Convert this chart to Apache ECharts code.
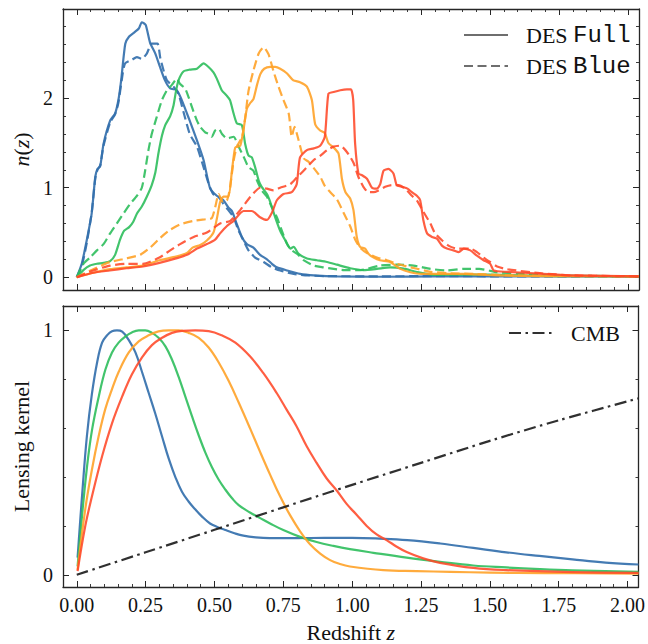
<!DOCTYPE html>
<html><head><meta charset="utf-8">
<script src="https://cdn.jsdelivr.net/npm/echarts@6/dist/echarts.min.js"></script>
<style>html,body{margin:0;padding:0;background:#fff}#c{width:648px;height:644px}</style>
</head><body><div id="c"></div>
<script>
// ---------- tick values & labels ----------
const xMajor = [0, 0.25, 0.5, 0.75, 1.0, 1.25, 1.5, 1.75, 2.0];
const xTickLabels = ['0.00','0.25','0.50','0.75','1.00','1.25','1.50','1.75','2.00'];
const yTopMajor = [0, 1, 2];
const yTopLabels = ['0','1','2'];
const yBotMajor = [0, 1];
const yBotLabels = ['0','1'];

// ---------- n(z): DES Full (solid) ----------
const bin1Full = [[0,0],[0.018,0.15],[0.036,0.41],[0.054,0.71],[0.067,1.12],[0.075,1.21],[0.085,1.24],[0.097,1.49],[0.121,1.75],[0.139,1.83],[0.151,1.98],[0.161,2.2],[0.176,2.61],[0.19,2.69],[0.21,2.74],[0.225,2.78],[0.236,2.85],[0.25,2.82],[0.266,2.62],[0.285,2.5],[0.302,2.35],[0.32,2.2],[0.339,2.11],[0.363,2.09],[0.381,1.98],[0.406,1.78],[0.436,1.53],[0.46,1.31],[0.484,0.99],[0.508,0.91],[0.532,0.86],[0.55,0.78],[0.563,0.74],[0.58,0.6],[0.599,0.45],[0.617,0.37],[0.641,0.33],[0.665,0.25],[0.69,0.2],[0.708,0.15],[0.726,0.11],[0.763,0.075],[0.81,0.037],[0.86,0.02],[0.95,0.008],[1.1,0.005],[1.3,0.01],[1.5,0.01],[1.7,0.008],[1.9,0.008],[2.04,0.008]];
const bin2Full = [[0,0],[0.024,0.08],[0.048,0.13],[0.073,0.15],[0.097,0.16],[0.121,0.18],[0.139,0.25],[0.157,0.42],[0.172,0.52],[0.19,0.56],[0.205,0.62],[0.218,0.71],[0.236,0.79],[0.254,0.9],[0.272,1.03],[0.285,1.17],[0.296,1.38],[0.309,1.58],[0.321,1.7],[0.339,1.8],[0.351,1.92],[0.36,2.08],[0.369,2.2],[0.387,2.3],[0.41,2.32],[0.436,2.33],[0.46,2.39],[0.478,2.35],[0.496,2.29],[0.508,2.22],[0.526,2.09],[0.544,2.03],[0.556,1.98],[0.569,1.83],[0.581,1.72],[0.599,1.7],[0.611,1.49],[0.623,1.36],[0.635,1.34],[0.647,1.23],[0.66,1.08],[0.671,1.01],[0.69,0.93],[0.702,0.84],[0.72,0.67],[0.738,0.52],[0.757,0.41],[0.775,0.32],[0.787,0.34],[0.805,0.26],[0.835,0.21],[0.871,0.19],[0.908,0.17],[0.944,0.14],[0.992,0.1],[1.04,0.08],[1.089,0.093],[1.137,0.11],[1.186,0.095],[1.234,0.058],[1.3,0.025],[1.44,0.03],[1.55,0.025],[1.68,0.015],[1.8,0.012],[2.04,0.01]];
const bin3Full = [[0,0],[0.06,0.05],[0.121,0.09],[0.18,0.11],[0.24,0.13],[0.3,0.19],[0.36,0.23],[0.4,0.27],[0.42,0.33],[0.448,0.36],[0.472,0.41],[0.496,0.5],[0.508,0.65],[0.52,0.84],[0.532,0.9],[0.55,0.9],[0.563,1.19],[0.575,1.45],[0.593,1.47],[0.605,1.65],[0.617,1.88],[0.63,1.95],[0.641,1.99],[0.654,2.15],[0.666,2.27],[0.68,2.33],[0.702,2.35],[0.72,2.35],[0.738,2.33],[0.762,2.28],[0.786,2.2],[0.81,2.18],[0.835,2.13],[0.853,1.98],[0.865,1.71],[0.883,1.64],[0.9,1.61],[0.913,1.5],[0.932,1.45],[0.95,1.38],[0.962,1.1],[0.975,0.95],[0.992,0.88],[1.004,0.75],[1.016,0.45],[1.028,0.34],[1.046,0.32],[1.059,0.26],[1.077,0.22],[1.1,0.19],[1.137,0.17],[1.174,0.093],[1.21,0.056],[1.25,0.037],[1.31,0.037],[1.4,0.037],[1.52,0.02],[1.7,0.012],[2.04,0.01]];
const bin4Full = [[0,0],[0.06,0.05],[0.12,0.075],[0.18,0.1],[0.24,0.12],[0.3,0.16],[0.36,0.21],[0.4,0.25],[0.436,0.32],[0.472,0.37],[0.502,0.42],[0.52,0.49],[0.544,0.57],[0.569,0.63],[0.605,0.74],[0.635,0.74],[0.665,0.67],[0.69,0.64],[0.708,0.72],[0.726,0.86],[0.75,0.93],[0.78,0.95],[0.798,1.04],[0.81,1.34],[0.835,1.42],[0.86,1.44],[0.883,1.47],[0.9,1.57],[0.913,2.05],[0.932,2.07],[0.956,2.09],[0.98,2.1],[0.995,2.1],[1.003,1.98],[1.01,1.49],[1.022,1.16],[1.035,1.14],[1.053,1.1],[1.071,1.0],[1.089,0.99],[1.101,1.04],[1.113,1.19],[1.131,1.21],[1.149,1.16],[1.161,1.03],[1.18,1.01],[1.2,0.99],[1.216,0.95],[1.234,0.91],[1.246,0.86],[1.258,0.63],[1.271,0.49],[1.289,0.45],[1.307,0.43],[1.326,0.35],[1.343,0.32],[1.367,0.3],[1.386,0.28],[1.404,0.32],[1.428,0.3],[1.452,0.24],[1.476,0.19],[1.5,0.15],[1.513,0.075],[1.56,0.06],[1.68,0.04],[1.8,0.02],[2.04,0.01]];

// ---------- n(z): DES Blue (dashed) ----------
const bin1Blue = [[0,0],[0.018,0.12],[0.036,0.38],[0.054,0.72],[0.067,1.1],[0.075,1.2],[0.085,1.25],[0.097,1.47],[0.121,1.73],[0.139,1.82],[0.151,1.95],[0.163,2.2],[0.175,2.39],[0.2,2.43],[0.218,2.46],[0.236,2.44],[0.254,2.5],[0.272,2.61],[0.293,2.61],[0.303,2.45],[0.315,2.31],[0.327,2.2],[0.351,2.13],[0.369,2.05],[0.387,1.85],[0.41,1.6],[0.436,1.46],[0.46,1.23],[0.478,1.05],[0.495,0.93],[0.514,0.9],[0.532,0.82],[0.55,0.75],[0.569,0.67],[0.587,0.52],[0.605,0.41],[0.623,0.3],[0.647,0.22],[0.678,0.17],[0.708,0.11],[0.738,0.075],[0.787,0.037],[0.84,0.02],[0.9,0.012],[1.1,0.01],[1.3,0.012],[1.5,0.01],[1.7,0.008],[2.04,0.008]];
const bin2Blue = [[0,0],[0.024,0.15],[0.048,0.22],[0.073,0.3],[0.097,0.37],[0.121,0.49],[0.145,0.6],[0.169,0.71],[0.194,0.82],[0.218,0.91],[0.236,1.0],[0.248,1.19],[0.26,1.42],[0.272,1.6],[0.29,1.79],[0.309,1.98],[0.327,2.09],[0.345,2.15],[0.363,2.22],[0.375,2.16],[0.393,2.11],[0.406,2.01],[0.418,1.9],[0.436,1.75],[0.448,1.68],[0.466,1.62],[0.48,1.6],[0.49,1.57],[0.502,1.64],[0.515,1.66],[0.527,1.6],[0.545,1.55],[0.569,1.57],[0.587,1.46],[0.605,1.35],[0.623,1.23],[0.641,1.19],[0.654,1.08],[0.671,0.97],[0.69,0.9],[0.708,0.78],[0.726,0.67],[0.744,0.52],[0.763,0.37],[0.78,0.3],[0.8,0.26],[0.823,0.19],[0.86,0.13],[0.895,0.11],[0.932,0.093],[0.97,0.08],[1.03,0.08],[1.1,0.13],[1.162,0.14],[1.222,0.13],[1.283,0.093],[1.343,0.075],[1.404,0.093],[1.46,0.093],[1.525,0.056],[1.6,0.04],[1.7,0.025],[1.85,0.015],[2.04,0.01]];
const bin3Blue = [[0,0],[0.06,0.09],[0.121,0.17],[0.18,0.21],[0.23,0.25],[0.266,0.33],[0.303,0.44],[0.339,0.53],[0.375,0.59],[0.424,0.63],[0.472,0.65],[0.49,0.66],[0.502,0.78],[0.515,0.93],[0.53,0.84],[0.545,0.86],[0.556,1.0],[0.569,1.3],[0.581,1.46],[0.6,1.57],[0.611,1.78],[0.623,2.08],[0.641,2.31],[0.66,2.5],[0.678,2.57],[0.696,2.49],[0.714,2.3],[0.732,2.13],[0.75,1.98],[0.769,1.83],[0.78,1.57],[0.79,1.68],[0.805,1.53],[0.823,1.33],[0.841,1.29],[0.86,1.22],[0.884,1.12],[0.9,1.02],[0.92,0.95],[0.944,0.87],[0.968,0.72],[0.992,0.57],[1.01,0.42],[1.028,0.33],[1.053,0.27],[1.089,0.22],[1.125,0.19],[1.162,0.15],[1.198,0.12],[1.234,0.095],[1.283,0.06],[1.35,0.045],[1.44,0.037],[1.56,0.022],[1.7,0.015],[2.04,0.01]];
const bin4Blue = [[0,0],[0.06,0.075],[0.121,0.13],[0.18,0.15],[0.24,0.15],[0.3,0.22],[0.339,0.3],[0.375,0.37],[0.424,0.45],[0.472,0.5],[0.52,0.6],[0.557,0.63],[0.593,0.75],[0.63,0.9],[0.666,1.0],[0.69,0.99],[0.714,0.97],[0.738,1.0],[0.775,1.04],[0.8,1.12],[0.823,1.19],[0.86,1.31],[0.884,1.36],[0.908,1.42],[0.932,1.46],[0.956,1.47],[0.98,1.4],[1.004,1.28],[1.022,1.12],[1.04,1.01],[1.058,0.95],[1.077,0.95],[1.095,0.97],[1.119,1.01],[1.143,1.03],[1.168,1.03],[1.192,0.99],[1.216,0.91],[1.234,0.86],[1.258,0.73],[1.283,0.6],[1.3,0.49],[1.326,0.41],[1.35,0.35],[1.38,0.32],[1.404,0.32],[1.428,0.32],[1.452,0.28],[1.476,0.22],[1.5,0.17],[1.525,0.12],[1.56,0.09],[1.68,0.045],[1.8,0.02],[2.04,0.01]];

// ---------- lensing kernels ----------
const kern1 = [[0.003,0.07],[0.019,0.32],[0.037,0.57],[0.055,0.74],[0.074,0.87],[0.092,0.95],[0.11,0.98],[0.128,0.997],[0.146,1.0],[0.165,0.995],[0.189,0.96],[0.213,0.91],[0.237,0.83],[0.261,0.745],[0.285,0.66],[0.31,0.565],[0.334,0.475],[0.358,0.4],[0.382,0.34],[0.406,0.3],[0.43,0.268],[0.455,0.238],[0.484,0.21],[0.51,0.196],[0.54,0.183],[0.57,0.171],[0.605,0.16],[0.65,0.153],[0.7,0.15],[0.8,0.15],[0.9,0.151],[1.0,0.151],[1.1,0.148],[1.2,0.142],[1.32,0.128],[1.44,0.11],[1.56,0.092],[1.68,0.077],[1.8,0.063],[1.92,0.05],[2.04,0.042]];
const kern2 = [[0.003,0.035],[0.019,0.24],[0.037,0.44],[0.055,0.59],[0.08,0.73],[0.104,0.84],[0.128,0.91],[0.152,0.95],[0.177,0.976],[0.2,0.992],[0.225,1.0],[0.249,1.0],[0.273,0.99],[0.297,0.97],[0.322,0.935],[0.346,0.88],[0.37,0.81],[0.394,0.73],[0.418,0.65],[0.443,0.57],[0.467,0.5],[0.491,0.44],[0.515,0.39],[0.54,0.348],[0.564,0.313],[0.588,0.285],[0.629,0.255],[0.666,0.232],[0.702,0.21],[0.75,0.183],[0.811,0.155],[0.871,0.134],[0.932,0.118],[0.992,0.105],[1.077,0.09],[1.198,0.07],[1.319,0.053],[1.44,0.038],[1.56,0.03],[1.682,0.023],[1.8,0.018],[2.04,0.012]];
const kern3 = [[0.003,0.02],[0.031,0.27],[0.055,0.43],[0.08,0.57],[0.104,0.68],[0.128,0.76],[0.152,0.83],[0.189,0.91],[0.225,0.955],[0.261,0.98],[0.297,0.996],[0.334,1.0],[0.37,1.0],[0.406,0.99],[0.443,0.97],[0.479,0.93],[0.515,0.87],[0.551,0.795],[0.588,0.705],[0.629,0.6],[0.665,0.505],[0.702,0.41],[0.738,0.322],[0.774,0.245],[0.811,0.178],[0.847,0.125],[0.884,0.087],[0.92,0.06],[0.956,0.044],[0.992,0.034],[1.113,0.019],[1.234,0.015],[1.356,0.012],[1.5,0.009],[1.7,0.007],[2.04,0.005]];
const kern4 = [[0.003,0.015],[0.031,0.2],[0.055,0.32],[0.092,0.485],[0.128,0.62],[0.165,0.73],[0.2,0.82],[0.237,0.89],[0.273,0.94],[0.31,0.97],[0.346,0.99],[0.382,0.998],[0.43,1.0],[0.479,0.997],[0.527,0.98],[0.576,0.95],[0.629,0.894],[0.677,0.826],[0.726,0.744],[0.762,0.676],[0.798,0.608],[0.835,0.526],[0.871,0.458],[0.907,0.395],[0.944,0.345],[0.98,0.29],[1.017,0.245],[1.053,0.2],[1.089,0.165],[1.125,0.142],[1.162,0.115],[1.198,0.093],[1.258,0.067],[1.319,0.049],[1.44,0.028],[1.56,0.019],[1.8,0.011],[2.04,0.008]];
const kernCMB = [[0,0],[0.25,0.092],[0.5,0.184],[0.75,0.276],[1.0,0.368],[1.25,0.458],[1.5,0.548],[1.75,0.632],[2.04,0.722]];

// ---------- styling ----------
const C_BLUE='rgba(52,112,172,0.92)', C_GREEN='rgba(46,190,92,0.9)', C_ORANGE='rgba(255,162,40,0.9)', C_RED='rgba(255,72,40,0.88)';
const AX='#262626';
const SERIF='"Liberation Serif", "DejaVu Serif", serif';
const MONO='"Liberation Mono", "DejaVu Sans Mono", monospace';
const X_MIN=-0.05, X_MAX=2.04;
const LW=2.2;

function minorVals(a, b, step){ const out=[]; for(let v=a; v<=b+1e-9; v+=step){ out.push(Math.round(v*1000)/1000); } return out; }
const xMinor = minorVals(0, 2.0, 0.05);
const yTopMinor = minorVals(0, 2.8, 0.2);
const yBotMinor = minorVals(0, 1.0, 0.2);

function lab(vals, labels){ return v => { const i = vals.findIndex(t => Math.abs(t - v) < 1e-9); return i < 0 ? '' : labels[i]; }; }

function xAxesFor(g, showLabels){
  const base = {gridIndex:g, type:'value', min:X_MIN, max:X_MAX, splitLine:{show:false},
    axisLine:{show:true, onZero:false, lineStyle:{color:AX, width:1.3}}};
  const maj = {inside:true, length:6, customValues:xMajor, lineStyle:{color:AX, width:1}};
  const mnr = {inside:true, length:3, customValues:xMinor, lineStyle:{color:AX, width:0.9}};
  const a0 = Object.assign({}, base, {position:'bottom', axisTick:maj,
    axisLabel:{show:showLabels, customValues:xMajor, formatter:lab(xMajor, xTickLabels), margin:8,
      fontFamily:SERIF, fontSize:20, color:'#111'}});
  if (showLabels) Object.assign(a0, {name:'Redshift {i|z}', nameLocation:'middle', nameGap:34,
    nameTextStyle:{fontFamily:SERIF, fontSize:22, color:'#111', rich:{i:{fontFamily:SERIF, fontStyle:'italic', fontSize:22, color:'#111'}}}});
  return [a0,
    Object.assign({}, base, {position:'bottom', axisLine:{show:false, onZero:false}, axisTick:mnr, axisLabel:{show:false}}),
    Object.assign({}, base, {position:'top', axisTick:maj, axisLabel:{show:false}}),
    Object.assign({}, base, {position:'top', axisLine:{show:false, onZero:false}, axisTick:mnr, axisLabel:{show:false}})];
}
function yAxesFor(g, min, max, major, labels, minor, name, gap){
  const base = {gridIndex:g, type:'value', min:min, max:max, splitLine:{show:false},
    axisLine:{show:true, onZero:false, lineStyle:{color:AX, width:1.3}}};
  const maj = {inside:true, length:6, customValues:major, lineStyle:{color:AX, width:1}};
  const mnr = {inside:true, length:3, customValues:minor, lineStyle:{color:AX, width:0.9}};
  return [
    Object.assign({}, base, {position:'left', axisTick:maj,
      axisLabel:{customValues:major, formatter:lab(major, labels), margin:10, fontFamily:SERIF, fontSize:20, color:'#111'},
      name:name, nameLocation:'middle', nameGap:gap, nameRotate:90,
      nameTextStyle:{fontFamily:SERIF, fontSize:22, color:'#111', rich:{i:{fontFamily:SERIF, fontStyle:'italic', fontSize:22, color:'#111'}}}}),
    Object.assign({}, base, {position:'left', axisLine:{show:false, onZero:false}, axisTick:mnr, axisLabel:{show:false}}),
    Object.assign({}, base, {position:'right', axisTick:maj, axisLabel:{show:false}}),
    Object.assign({}, base, {position:'right', axisLine:{show:false, onZero:false}, axisTick:mnr, axisLabel:{show:false}})];
}

function line(name, data, color, type, xi, yi, smooth){
  return {type:'line', name:name, data:data, xAxisIndex:xi, yAxisIndex:yi, symbol:'none', showSymbol:false,
    smooth:smooth, silent:true, color:color, lineStyle:{color:color, width:LW, type:type, cap:'butt', join:'round'}};
}
const DASH=[9,4.5];

const series = [
  line('b1F', bin1Full, C_BLUE, 'solid', 0, 0, 0.2),
  line('b1B', bin1Blue, C_BLUE, DASH, 0, 0, 0.2),
  line('b2F', bin2Full, C_GREEN, 'solid', 0, 0, 0.2),
  line('b2B', bin2Blue, C_GREEN, DASH, 0, 0, 0.2),
  line('b3F', bin3Full, C_ORANGE, 'solid', 0, 0, 0.2),
  line('b3B', bin3Blue, C_ORANGE, DASH, 0, 0, 0.2),
  line('b4F', bin4Full, C_RED, 'solid', 0, 0, 0.2),
  line('b4B', bin4Blue, C_RED, DASH, 0, 0, 0.2),
  line('DES Full', [], '#6e6e6e', 'solid', 0, 0, false),
  line('DES Blue', [], '#6e6e6e', DASH, 0, 0, false),
  line('k1', kern1, C_BLUE, 'solid', 4, 4, 0.4),
  line('k2', kern2, C_GREEN, 'solid', 4, 4, 0.4),
  line('k3', kern3, C_ORANGE, 'solid', 4, 4, 0.4),
  line('k4', kern4, C_RED, 'solid', 4, 4, 0.4),
  line('CMB', kernCMB, 'rgba(30,30,30,0.92)', [12,4.5,2.5,4.5], 4, 4, 0.3),
];

const legendText = {fontFamily:SERIF, fontSize:22, color:'#111',
  rich:{sp:{width:13}, tt:{fontFamily:MONO, fontSize:24, color:'#111'}, rm:{fontFamily:SERIF, fontSize:22, color:'#111'}}};
const hiddenMarker = {color:'rgba(0,0,0,0)', borderColor:'rgba(0,0,0,0)', borderWidth:0, opacity:0};

const option = {
  animation:false,
  backgroundColor:'#fff',
  grid:[{left:63, top:9, width:576, height:281}, {left:63, top:306, width:576, height:281}],
  xAxis: xAxesFor(0, false).concat(xAxesFor(1, true)),
  yAxis: yAxesFor(0, -0.143, 2.998, yTopMajor, yTopLabels, yTopMinor, '{i|n}({i|z})', 30)
    .concat(yAxesFor(1, -0.05, 1.1, yBotMajor, yBotLabels, yBotMinor, 'Lensing kernel', 30)),
  legend:[
    {data:['DES Full','DES Blue'], orient:'vertical', left:458, top:18, itemWidth:44, itemHeight:14, itemGap:7,
     selectedMode:false, itemStyle:hiddenMarker, textStyle:Object.assign({lineHeight:24}, legendText),
     formatter: n => n === 'DES Full' ? '{sp|}{rm|DES }{tt|Full}' : '{sp|}{rm|DES }{tt|Blue}'},
    {data:['CMB'], orient:'vertical', left:503, top:316, itemWidth:44, itemHeight:14,
     selectedMode:false, itemStyle:hiddenMarker, textStyle:Object.assign({lineHeight:24}, legendText),
     formatter: n => '{sp|}{rm|' + n + '}'}
  ],
  series: series
};
const chart = echarts.init(document.getElementById('c'), null, {renderer:'svg'});
chart.setOption(option);
</script></body></html>
